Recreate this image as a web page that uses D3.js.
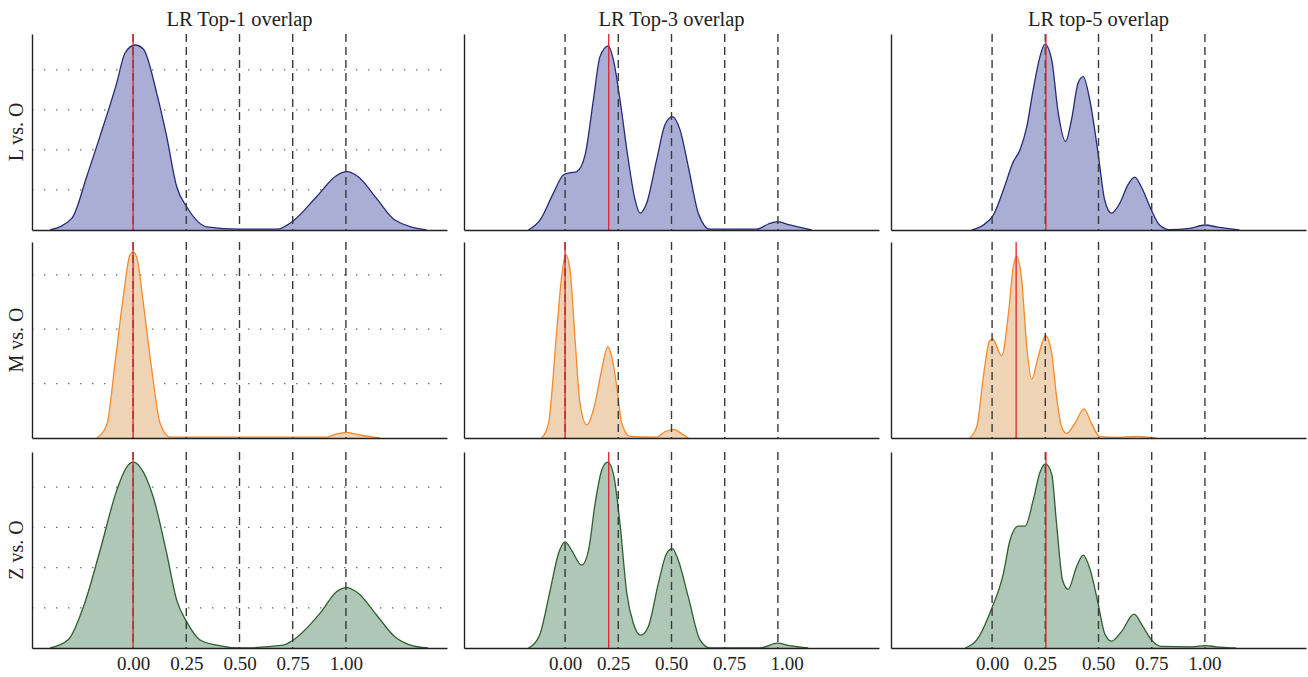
<!DOCTYPE html>
<html>
<head>
<meta charset="utf-8">
<script src="https://cdn.jsdelivr.net/npm/d3@7"></script>
<style>
  body { margin: 0; background: #fff; }
  svg text { font-family: "Liberation Serif", "DejaVu Serif", serif; fill: #222; }
</style>
</head>
<body>
<svg id="chart" width="1308" height="677"></svg>
<script>
  // column titles, row labels and x tick labels
  var columns = ['LR Top-1 overlap', 'LR Top-3 overlap', 'LR top-5 overlap'];
  var rows = ['L vs. O', 'M vs. O', 'Z vs. O'];
  var tickLabels = ['0.00', '0.25', '0.50', '0.75', '1.00'];
  // where each column printed its tick labels
  var tickPosTop1 = [0, 0.25, 0.5, 0.75, 1];
  var tickPosTop3 = [0, 0.226, 0.498, 0.771, 1.041];
  var tickPosTop5 = [0, 0.225, 0.498, 0.748, 0.998];
  // dashed reference lines
  var refLines = [0, 0.25, 0.5, 0.75, 1];
  // red marker per row (top-1, top-3, top-5)
  var markL = [0, 0.205, 0.253];
  var markM = [0, 0, 0.113];
  var markZ = [0, 0.205, 0.253];
  // dotted grid (first column only)
  var gridL = [1, 2, 3, 4];
  var gridM = [2, 4, 6];
  var gridZ = [1, 2, 3, 4];

  // density curves [overlap, density]
  var lTop1 = [[-0.39,0],[-0.288,0.29],[-0.217,1.35],[-0.155,2.35],[-0.077,3.67],[-0.038,4.42],[0.009,4.62],[0.048,4.52],[0.111,3.42],[0.158,2.33],[0.205,1.08],[0.252,0.58],[0.346,0.08],[0.502,0.02],[0.675,0.02],[0.753,0.23],[0.862,0.83],[0.956,1.36],[1.003,1.46],[1.058,1.33],[1.144,0.79],[1.23,0.25],[1.379,0]];
  var lTop3 = [[-0.172,0],[-0.117,0.25],[-0.055,0.92],[-0.008,1.375],[0.023,1.43],[0.055,1.46],[0.094,1.875],[0.133,3.25],[0.164,4.33],[0.203,4.6],[0.227,4.25],[0.258,3.25],[0.297,1.75],[0.329,0.75],[0.352,0.42],[0.383,0.67],[0.43,1.75],[0.469,2.625],[0.504,2.83],[0.54,2.5],[0.579,1.58],[0.626,0.42],[0.681,0.02],[0.9,0.02],[0.955,0.15],[0.998,0.21],[1.056,0.125],[1.158,0]];
  var lTop5 = [[-0.095,0],[-0.041,0.125],[0.006,0.375],[0.053,1.0],[0.1,1.71],[0.131,2.0],[0.163,2.58],[0.193,3.5],[0.225,4.33],[0.248,4.64],[0.28,4.25],[0.311,2.92],[0.345,2.21],[0.373,2.75],[0.404,3.67],[0.428,3.83],[0.459,3.25],[0.498,1.92],[0.529,0.75],[0.561,0.42],[0.6,0.67],[0.638,1.125],[0.67,1.32],[0.701,1.08],[0.748,0.5],[0.787,0.125],[0.834,0.01],[0.927,0.04],[1.001,0.125],[1.06,0.07],[1.162,0]];
  var mTop1 = [[-0.171,0],[-0.124,0.48],[-0.085,2.75],[-0.046,5.2],[-0.014,6.74],[0.002,6.83],[0.02,6.56],[0.048,4.96],[0.088,2.5],[0.127,0.54],[0.174,0.03],[0.909,0.03],[0.956,0.15],[1.003,0.21],[1.066,0.11],[1.16,0]];
  var mTop3 = [[-0.11,0],[-0.078,0.54],[-0.039,3.98],[-0.016,5.94],[0.003,6.74],[0.023,6.19],[0.047,3.61],[0.07,1.28],[0.102,0.48],[0.133,1.03],[0.172,2.5],[0.2,3.36],[0.219,3.0],[0.243,1.89],[0.266,0.54],[0.305,0.06],[0.43,0.03],[0.469,0.23],[0.509,0.32],[0.54,0.2],[0.579,0]];
  var mTop5 = [[-0.106,0],[-0.072,0.42],[-0.041,2.26],[-0.013,3.55],[0.003,3.64],[0.045,3.02],[0.077,4.59],[0.1,6.31],[0.116,6.68],[0.139,5.82],[0.163,3.36],[0.186,2.16],[0.217,3.0],[0.251,3.76],[0.28,3.12],[0.303,1.52],[0.326,0.42],[0.35,0.17],[0.389,0.54],[0.432,1.07],[0.467,0.54],[0.506,0.05],[0.584,0.02],[0.678,0.06],[0.771,0]];
  var zTop1 = [[-0.39,0],[-0.304,0.21],[-0.233,1.03],[-0.155,2.43],[-0.077,3.92],[-0.03,4.5],[0.002,4.62],[0.033,4.5],[0.095,3.75],[0.158,2.35],[0.205,1.19],[0.252,0.65],[0.315,0.2],[0.393,0.07],[0.502,0],[0.706,0.07],[0.753,0.2],[0.878,0.86],[0.956,1.4],[1.003,1.5],[1.058,1.36],[1.144,0.82],[1.23,0.28],[1.3,0.08],[1.386,0]];
  var zTop3 = [[-0.172,0],[-0.12,0.32],[-0.07,1.44],[-0.031,2.35],[0,2.64],[0.031,2.43],[0.078,2.06],[0.11,2.43],[0.141,3.59],[0.172,4.42],[0.2,4.62],[0.227,4.33],[0.258,3.09],[0.29,1.36],[0.321,0.61],[0.355,0.32],[0.391,0.53],[0.438,1.6],[0.477,2.35],[0.504,2.47],[0.532,2.18],[0.579,1.27],[0.634,0.2],[0.681,0],[0.915,0],[0.998,0.12],[1.056,0.06],[1.142,0]];
  var zTop5 = [[-0.126,0],[-0.072,0.2],[-0.002,0.98],[0.053,1.85],[0.084,2.68],[0.123,3.03],[0.155,3.03],[0.193,3.67],[0.225,4.37],[0.251,4.58],[0.28,4.33],[0.303,3.09],[0.331,1.69],[0.357,1.46],[0.397,2.02],[0.428,2.31],[0.459,1.98],[0.498,1.11],[0.529,0.36],[0.561,0.17],[0.607,0.4],[0.667,0.84],[0.709,0.53],[0.748,0.21],[0.795,0.04],[0.943,0.03],[1.001,0.06],[1.052,0.03],[1.146,0]];

  var curves = [[lTop1, lTop3, lTop5], [mTop1, mTop3, mTop5], [zTop1, zTop3, zTop5]];
  var marks = [markL, markM, markZ];
  var grids = [gridL, gridM, gridZ];
  var tickPos = [tickPosTop1, tickPosTop3, tickPosTop5];
  var fills = ['#aaaed5', '#efd3b5', '#aec7b6'];
  var strokes = ['#272a78', '#f58a2c', '#2f5e31'];

  var colX = [32, 464, 891];
  var rowY = [34, 242, 452];
  var panelW = 415;
  var panelH = 196;

  var svg = d3.select('#chart');

  var x = d3.scaleLinear().domain([-0.475, 1.475]).range([0, panelW]);

  // titles
  svg.selectAll('text.title')
      .data(columns)
      .enter()
      .append('text')
      .attr('class', 'title')
      .attr('x', function(d, i) { return colX[i] + panelW / 2; })
      .attr('y', 26)
      .attr('text-anchor', 'middle')
      .style('font-size', '20.5px')
      .text(function(d) { return d; });

  // row labels
  svg.selectAll('text.rowlab')
      .data(rows)
      .enter()
      .append('text')
      .attr('class', 'rowlab')
      .attr('transform', function(d, i) {
        return 'translate(23,' + (rowY[i] + panelH / 2) + ') rotate(-90)';
      })
      .attr('text-anchor', 'middle')
      .style('font-size', '20px')
      .text(function(d) { return d; });

  rows.forEach(function(rowName, r) {
    var rowMax = d3.max(curves[r], function(c) { return d3.max(c, function(d) { return d[1]; }); });
    var y = d3.scaleLinear().domain([0, rowMax * 1.055]).range([panelH, 0]);

    var area = d3.area()
        .x(function(d) { return x(d[0]); })
        .y0(y(0))
        .y1(function(d) { return y(d[1]); })
        .curve(d3.curveMonotoneX);
    var line = d3.line()
        .x(function(d) { return x(d[0]); })
        .y(function(d) { return y(d[1]); })
        .curve(d3.curveMonotoneX);

    columns.forEach(function(colName, c) {
      var g = svg.append('g')
          .attr('transform', 'translate(' + colX[c] + ',' + rowY[r] + ')');

      // dotted grid, only first column
      if (c === 0) {
        g.selectAll('line.grid')
            .data(grids[r])
            .enter()
            .append('line')
            .attr('class', 'grid')
            .attr('x1', 0)
            .attr('x2', panelW)
            .attr('y1', function(d) { return y(d); })
            .attr('y2', function(d) { return y(d); })
            .attr('stroke', '#666')
            .attr('stroke-width', 1.3)
            .attr('stroke-dasharray', '1.4,10.6');
      }

      g.append('path')
          .datum(curves[r][c])
          .attr('d', area)
          .attr('fill', fills[r]);
      g.append('path')
          .datum(curves[r][c])
          .attr('d', line)
          .attr('fill', 'none')
          .attr('stroke', strokes[r])
          .attr('stroke-width', 1.3);

      g.selectAll('line.ref')
          .data(refLines)
          .enter()
          .append('line')
          .attr('class', 'ref')
          .attr('x1', function(d) { return x(d); })
          .attr('x2', function(d) { return x(d); })
          .attr('y1', 0)
          .attr('y2', panelH)
          .attr('stroke', '#3a3a3a')
          .attr('stroke-width', 1.4)
          .attr('stroke-dasharray', '8,5');

      g.append('line')
          .attr('x1', x(marks[r][c]))
          .attr('x2', x(marks[r][c]))
          .attr('y1', 0)
          .attr('y2', panelH)
          .attr('stroke', '#e8202a')
          .attr('stroke-width', 1.3);

      // axes
      var xAxis = d3.axisBottom(x)
          .tickValues(r === 2 ? tickPos[c] : [])
          .tickFormat(function(d, i) { return tickLabels[i]; })
          .tickSize(0)
          .tickPadding(9);
      var ax = g.append('g')
          .attr('transform', 'translate(0,' + panelH + ')')
          .call(xAxis);
      ax.attr('font-family', null).attr('font-size', null);
      ax.selectAll('text').style('font-size', '19px');
      ax.select('.domain').attr('stroke', '#222').attr('stroke-width', 1.4);

      var yAxis = d3.axisLeft(y).tickValues([]).tickSizeOuter(0);
      var ay = g.append('g').call(yAxis);
      ay.select('.domain').attr('stroke', '#222').attr('stroke-width', 1.4);
    });
  });
</script>
</body>
</html>
